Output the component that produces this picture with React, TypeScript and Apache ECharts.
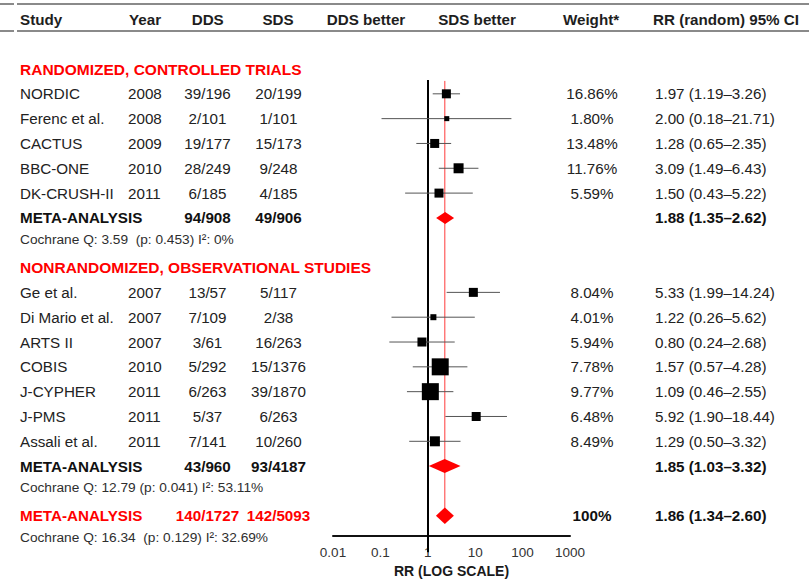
import React, { useEffect, useRef } from "react";
import * as echarts from "echarts";

// ---------- data ----------
const headers = ["Study", "Year", "DDS", "SDS", "DDS better", "SDS better", "Weight*", "RR (random) 95% CI"];
const sectionTitles = ["RANDOMIZED, CONTROLLED TRIALS", "NONRANDOMIZED, OBSERVATIONAL STUDIES"];
const sectionRows = [0, 8];

const studies = ["NORDIC", "Ferenc et al.", "CACTUS", "BBC-ONE", "DK-CRUSH-II", "Ge et al.", "Di Mario et al.", "ARTS II", "COBIS", "J-CYPHER", "J-PMS", "Assali et al."];
const years = [2008, 2008, 2009, 2010, 2011, 2007, 2007, 2007, 2010, 2011, 2011, 2011];
const ddsEvents = ["39/196", "2/101", "19/177", "28/249", "6/185", "13/57", "7/109", "3/61", "5/292", "6/263", "5/37", "7/141"];
const sdsEvents = ["20/199", "1/101", "15/173", "9/248", "4/185", "5/117", "2/38", "16/263", "15/1376", "39/1870", "6/263", "10/260"];
const weights = ["16.86%", "1.80%", "13.48%", "11.76%", "5.59%", "8.04%", "4.01%", "5.94%", "7.78%", "9.77%", "6.48%", "8.49%"];
const rr = [1.97, 2.0, 1.28, 3.09, 1.5, 5.33, 1.22, 0.8, 1.57, 1.09, 5.92, 1.29];
const rrLo = [1.19, 0.18, 0.65, 1.49, 0.43, 1.99, 0.26, 0.24, 0.57, 0.46, 1.9, 0.5];
const rrHi = [3.26, 21.71, 2.35, 6.43, 5.22, 14.24, 5.62, 2.68, 4.28, 2.55, 18.44, 3.32];
const studyRows = [1, 2, 3, 4, 5, 9, 10, 11, 12, 13, 14, 15];
const boxPx = [9, 5, 9, 10, 9, 9, 6, 9, 17, 17, 9, 10];

const pooledNames = ["META-ANALYSIS", "META-ANALYSIS", "META-ANALYSIS"];
const pooledDDS = ["94/908", "43/960", "140/1727"];
const pooledSDS = ["49/906", "93/4187", "142/5093"];
const pooledWeight = ["", "", "100%"];
const pooledRR = [1.88, 1.85, 1.86];
const pooledLo = [1.35, 1.03, 1.34];
const pooledHi = [2.62, 3.32, 2.6];
const pooledRows = [6, 16, 18];
const diamondHalf = [6, 7, 8.3];

const heterogeneity = [
  "Cochrane Q: 3.59  (p: 0.453) I²: 0%",
  "Cochrane Q: 12.79 (p: 0.041) I²: 53.11%",
  "Cochrane Q: 16.34  (p: 0.129) I²: 32.69%",
];
const hetRows = [7, 17, 19];

const tickLabels = ["0.01", "0.1", "1", "10", "100", "1000"];
const axisName = "RR (LOG SCALE)";

// ---------- layout ----------
const W = 809;
const H = 583;
const ROW0 = 69;
const ROW_H = 24.82;
const Y_MIN = -ROW0 / ROW_H;
const Y_MAX = (H - ROW0) / ROW_H;
const FONT = "'Liberation Sans', Arial, Helvetica, sans-serif";
const TXT = "#222222";
const RED = "#ff0000";

type Cell = { x: number; row: number; text: string; align?: string; size?: number; bold?: boolean; color?: string; dy?: number };

const fmt = (a: number, b: number, c: number) => `${a.toFixed(2)} (${b.toFixed(2)}–${c.toFixed(2)})`;

function buildCells(): Cell[] {
  const cells: Cell[] = [];
  const hx = [
    { x: 20, a: "left" },
    { x: 129, a: "left" },
    { x: 207.7, a: "center" },
    { x: 278, a: "center" },
    { x: 366, a: "center" },
    { x: 477, a: "center" },
    { x: 591, a: "center" },
    { x: 653, a: "left" },
  ];
  headers.forEach((h, i) => cells.push({ x: hx[i].x, row: -2, text: h, align: hx[i].a, bold: true, color: "#1e1e1e" }));
  sectionTitles.forEach((t, i) => cells.push({ x: 20, row: sectionRows[i], text: t, bold: true, color: RED, size: 15.5 }));
  studies.forEach((s, i) => {
    const row = studyRows[i];
    cells.push({ x: 20, row, text: s });
    cells.push({ x: 128, row, text: String(years[i]) });
    cells.push({ x: 207.5, row, text: ddsEvents[i], align: "center" });
    cells.push({ x: 278.5, row, text: sdsEvents[i], align: "center" });
    cells.push({ x: 592, row, text: weights[i], align: "center" });
    cells.push({ x: 655, row, text: fmt(rr[i], rrLo[i], rrHi[i]) });
  });
  pooledNames.forEach((n, i) => {
    const row = pooledRows[i];
    const c = i === 2 ? RED : "#111";
    cells.push({ x: 20, row, text: n, bold: true, color: c });
    cells.push({ x: 207.5, row, text: pooledDDS[i], bold: true, color: c, align: "center" });
    cells.push({ x: 278.5, row, text: pooledSDS[i], bold: true, color: c, align: "center" });
    if (pooledWeight[i]) cells.push({ x: 592, row, text: pooledWeight[i], bold: true, color: "#111", align: "center" });
    cells.push({ x: 655, row, text: fmt(pooledRR[i], pooledLo[i], pooledHi[i]), bold: true, color: "#111" });
  });
  heterogeneity.forEach((t, i) => cells.push({ x: 20, row: hetRows[i], text: t, size: 13.7, color: "#2e2e2e", dy: -3 }));
  return cells;
}

export default function App() {
  const ref = useRef<HTMLDivElement>(null);
  useEffect(() => {
    document.body.style.margin = "0";
    if (!ref.current) return;
    const chart = echarts.init(ref.current, undefined, { renderer: "svg" });
    const cells = buildCells();

    const yAxisBase = { type: "value", inverse: true, min: Y_MIN, max: Y_MAX, show: false };

    const option: any = {
      animation: false,
      backgroundColor: "#ffffff",
      grid: [
        { left: 0, top: 0, width: W, height: H },
        { left: 303.2, top: 0, width: 312, height: H },
        { left: 333, top: 80, width: 237, height: 467 },
      ],
      xAxis: [
        { type: "value", gridIndex: 0, min: 0, max: W, show: false },
        { type: "log", logBase: 10, gridIndex: 1, min: 0.01, max: 1000, show: false },
        {
          type: "log",
          logBase: 10,
          gridIndex: 2,
          min: 0.01,
          max: 1000,
          axisLine: { show: true, lineStyle: { color: "#111", width: 2 } },
          axisTick: { show: false },
          splitLine: { show: false },
          axisLabel: {
            color: "#333",
            fontSize: 13.5,
            fontFamily: FONT,
            margin: 9,
            formatter: (v: number) => tickLabels[Math.round(Math.log10(v)) + 2] ?? "",
          },
          name: axisName,
          nameLocation: "middle",
          nameGap: 26,
          nameTextStyle: { fontWeight: "bold", fontSize: 14, color: "#1a1a1a", fontFamily: FONT },
        },
      ],
      yAxis: [
        { ...yAxisBase, gridIndex: 0 },
        { ...yAxisBase, gridIndex: 1 },
        { type: "value", gridIndex: 2, min: 0, max: 1, show: false },
      ],
      graphic: [
        { type: "line", shape: { x1: 17, y1: 4, x2: W, y2: 4 }, style: { stroke: "#8a8a8a", lineWidth: 2 } },
        { type: "line", shape: { x1: 0, y1: 4, x2: 14, y2: 4 }, style: { stroke: "#8a8a8a", lineWidth: 2 } },
        { type: "line", shape: { x1: 17, y1: 31, x2: W, y2: 31 }, style: { stroke: "#8a8a8a", lineWidth: 2 } },
        { type: "line", shape: { x1: 0, y1: 31, x2: 14, y2: 31 }, style: { stroke: "#8a8a8a", lineWidth: 2 } },
      ],
      series: [
        {
          type: "custom",
          xAxisIndex: 0,
          yAxisIndex: 0,
          silent: true,
          data: cells.map((c) => [c.x, c.row]),
          renderItem: (params: any, api: any) => {
            const c = cells[params.dataIndex];
            const p = api.coord([api.value(0), api.value(1)]);
            return {
              type: "text",
              x: p[0],
              y: p[1] + (c.dy || 0),
              style: {
                text: c.text,
                fill: c.color || TXT,
                fontSize: c.size || 15.2,
                fontWeight: c.bold ? "bold" : "normal",
                fontFamily: FONT,
                align: c.align || "left",
                verticalAlign: "middle",
              },
            };
          },
        },
        {
          type: "line",
          xAxisIndex: 1,
          yAxisIndex: 1,
          symbol: "none",
          silent: true,
          z: 1,
          lineStyle: { color: "#000", width: 2 },
          data: [
            [1, 0.443],
            [1, 19.47],
          ],
        },
        {
          type: "line",
          xAxisIndex: 1,
          yAxisIndex: 1,
          symbol: "none",
          silent: true,
          z: 1,
          lineStyle: { color: "#ff3b3b", width: 1 },
          data: [
            [pooledRR[2], 0.48],
            [pooledRR[2], pooledRows[2]],
          ],
        },
        {
          type: "custom",
          xAxisIndex: 1,
          yAxisIndex: 1,
          silent: true,
          z: 3,
          data: studies.map((_, i) => [rr[i], studyRows[i], rrLo[i], rrHi[i]]),
          renderItem: (params: any, api: any) => {
            const i = params.dataIndex;
            const p = api.coord([api.value(0), api.value(1)]);
            const l = api.coord([api.value(2), api.value(1)]);
            const h = api.coord([api.value(3), api.value(1)]);
            const s = boxPx[i];
            return {
              type: "group",
              children: [
                { type: "line", shape: { x1: l[0], y1: p[1], x2: h[0], y2: p[1] }, style: { stroke: "#555", lineWidth: 1 } },
                { type: "rect", shape: { x: p[0] - s / 2, y: p[1] - s / 2, width: s, height: s }, style: { fill: "#000" } },
              ],
            };
          },
        },
        {
          type: "custom",
          xAxisIndex: 1,
          yAxisIndex: 1,
          silent: true,
          z: 4,
          data: pooledRR.map((v, i) => [v, pooledRows[i], pooledLo[i], pooledHi[i]]),
          renderItem: (params: any, api: any) => {
            const i = params.dataIndex;
            const p = api.coord([api.value(0), api.value(1)]);
            const l = api.coord([api.value(2), api.value(1)]);
            const h = api.coord([api.value(3), api.value(1)]);
            const d = diamondHalf[i];
            return {
              type: "polygon",
              shape: { points: [[l[0], p[1]], [p[0], p[1] - d], [h[0], p[1]], [p[0], p[1] + d]] },
              style: { fill: RED },
            };
          },
        },
        { type: "line", xAxisIndex: 2, yAxisIndex: 2, data: [], silent: true },
      ],
    };
    chart.setOption(option);
    return () => chart.dispose();
  }, []);
  return <div ref={ref} style={{ width: W, height: H, background: "#fff" }} />;
}
